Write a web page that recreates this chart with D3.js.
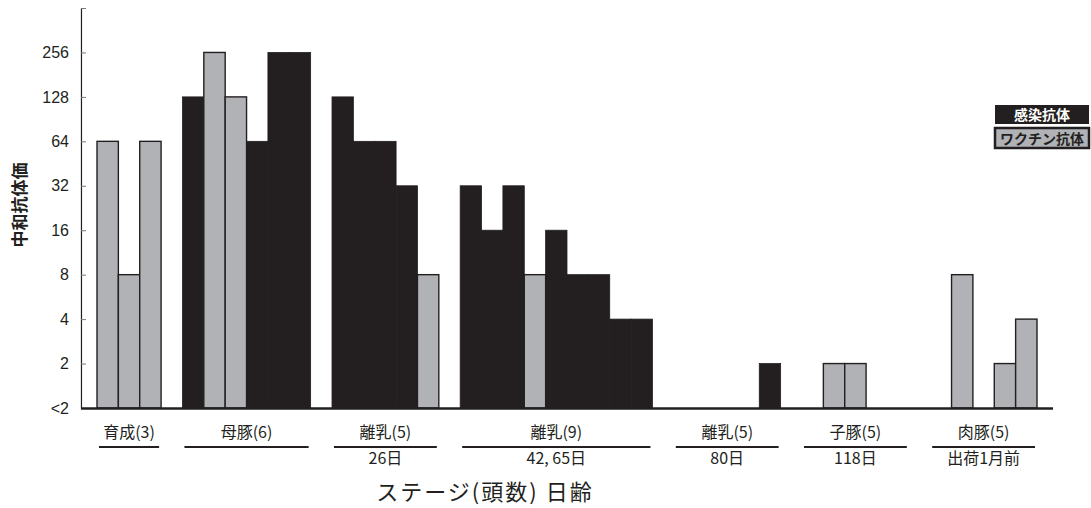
<!DOCTYPE html>
<html>
<head>
<meta charset="utf-8">
<script src="https://cdn.jsdelivr.net/npm/d3@7"></script>
<style>
  body { margin: 0; background: #fff; }
  svg { display: block; }
</style>
</head>
<body>
<svg id="chart" width="1091" height="508"></svg>
<script>
// stages, ages and the titer of each pig (0 = below 2)
var stages = ["育成(3)", "母豚(6)", "離乳(5)", "離乳(9)", "離乳(5)", "子豚(5)", "肉豚(5)"];
var ages = ["", "", "26日", "42, 65日", "80日", "118日", "出荷1月前"];
var titers = [
  [64, 8, 64],
  [128, 256, 128, 64, 256, 256],
  [128, 64, 64, 32, 8],
  [32, 16, 32, 8, 16, 8, 8, 4, 4],
  [0, 0, 0, 0, 2],
  [0, 2, 2, 0, 0],
  [0, 8, 0, 2, 4]
];
// I = 感染抗体, V = ワクチン抗体
var kinds = [
  ["V", "V", "V"],
  ["I", "V", "V", "I", "I", "I"],
  ["I", "I", "I", "I", "V"],
  ["I", "I", "I", "V", "I", "I", "I", "I", "I"],
  ["I", "I", "I", "I", "I"],
  ["V", "V", "V", "V", "V"],
  ["V", "V", "V", "V", "V"]
];
var tickLabels = ["<2", "2", "4", "8", "16", "32", "64", "128", "256"];
var legendLabels = ["感染抗体", "ワクチン抗体"];

var INK = "#231f20", GRAY = "#b1b2b6";
var jp = "'Noto Sans CJK JP', sans-serif";

var svg = d3.select("#chart");

// flatten bars into slots, one empty slot between stages
var bars = [], groups = [], slot = 0;
stages.forEach(function(s, g){
  var start = slot;
  titers[g].forEach(function(v, i){
    bars.push({ slot: slot, v: v, kind: kinds[g][i] });
    slot++;
  });
  groups.push({ name: s, age: ages[g], start: start, end: slot });
  slot++;
});

var x = d3.scaleLinear().domain([0, 44]).range([97, 1037]);
var y = d3.scaleLinear().domain([0, 9]).range([408, 8]);
function level(v){ return v < 2 ? 0 : Math.log2(v); }

// bars: black first, grey on top so borders show
var order = bars.filter(function(d){ return d.kind == "I"; })
  .concat(bars.filter(function(d){ return d.kind == "V"; }))
  .filter(function(d){ return d.v >= 2; });

svg.append("g").selectAll("rect")
  .data(order)
  .enter()
  .append("rect")
  .attr("x", function(d){ return x(d.slot); })
  .attr("width", x(1) - x(0))
  .attr("y", function(d){ return y(level(d.v)); })
  .attr("height", function(d){ return y(0) - y(level(d.v)); })
  .attr("fill", function(d){ return d.kind == "I" ? INK : GRAY; })
  .attr("stroke", INK)
  .attr("stroke-width", function(d){ return d.kind == "I" ? 0.8 : 1.4; });

// y axis
var yAxis = d3.axisLeft(y)
  .tickValues(d3.range(0, 10))
  .tickFormat(function(i){ return tickLabels[i] || ""; })
  .tickSizeInner(-5)
  .tickSizeOuter(0)
  .tickPadding(12);

var ax = svg.append("g")
  .attr("transform", "translate(" + x(-0.75) + ",0)")
  .call(yAxis);
ax.select(".domain").attr("stroke", INK).attr("stroke-width", 1.2);
ax.selectAll(".tick line").attr("stroke", "#777").attr("stroke-width", 1);
ax.selectAll(".tick text")
  .attr("fill", INK)
  .style("font-family", "'Liberation Sans', Arial, sans-serif")
  .style("font-size", "16px");

// baseline
svg.append("line")
  .attr("x1", x(-0.75)).attr("x2", x(44.75))
  .attr("y1", y(0) + 0.5).attr("y2", y(0) + 0.5)
  .attr("stroke", INK).attr("stroke-width", 2.6);

svg.append("text")
  .attr("transform", "translate(26,205) rotate(-90)")
  .attr("text-anchor", "middle")
  .style("font-family", jp).style("font-weight", "bold").style("font-size", "17px")
  .attr("fill", INK)
  .text("中和抗体価");

// stage labels with rule underneath
var gl = svg.append("g").selectAll("g")
  .data(groups)
  .enter()
  .append("g");

gl.append("text")
  .attr("x", function(d){ return (x(d.start) + x(d.end)) / 2; })
  .attr("y", 438)
  .attr("text-anchor", "middle")
  .style("font-family", jp).style("font-size", "16px")
  .attr("fill", INK)
  .text(function(d){ return d.name; });

gl.append("line")
  .attr("x1", function(d){ return x(d.start) + 2; })
  .attr("x2", function(d){ return x(d.end) - 2; })
  .attr("y1", 447).attr("y2", 447)
  .attr("stroke", INK).attr("stroke-width", 2);

gl.append("text")
  .attr("x", function(d){ return (x(d.start) + x(d.end)) / 2; })
  .attr("y", 464)
  .attr("text-anchor", "middle")
  .style("font-family", jp).style("font-size", "16px")
  .attr("fill", INK)
  .text(function(d){ return d.age; });

svg.append("text")
  .attr("x", 485).attr("y", 500)
  .attr("text-anchor", "middle")
  .style("font-family", jp).style("font-size", "22px")
  .style("letter-spacing", "2px")
  .attr("fill", INK)
  .text("ステージ(頭数) 日齢");

// legend
var lg = svg.append("g").attr("transform", "translate(994,105)");
lg.append("rect")
  .attr("x", 1).attr("y", 0).attr("width", 94).attr("height", 19)
  .attr("fill", INK);
lg.append("text")
  .attr("x", 48).attr("y", 15)
  .attr("text-anchor", "middle")
  .style("font-family", jp).style("font-weight", "bold").style("font-size", "14px")
  .attr("fill", "#fff")
  .text(legendLabels[0]);
lg.append("rect")
  .attr("x", 1).attr("y", 23).attr("width", 94).attr("height", 20)
  .attr("fill", GRAY).attr("stroke", INK).attr("stroke-width", 2.5);
lg.append("text")
  .attr("x", 48).attr("y", 38.5)
  .attr("text-anchor", "middle")
  .style("font-family", jp).style("font-weight", "bold").style("font-size", "14px")
  .attr("fill", INK)
  .text(legendLabels[1]);
</script>
</body>
</html>
